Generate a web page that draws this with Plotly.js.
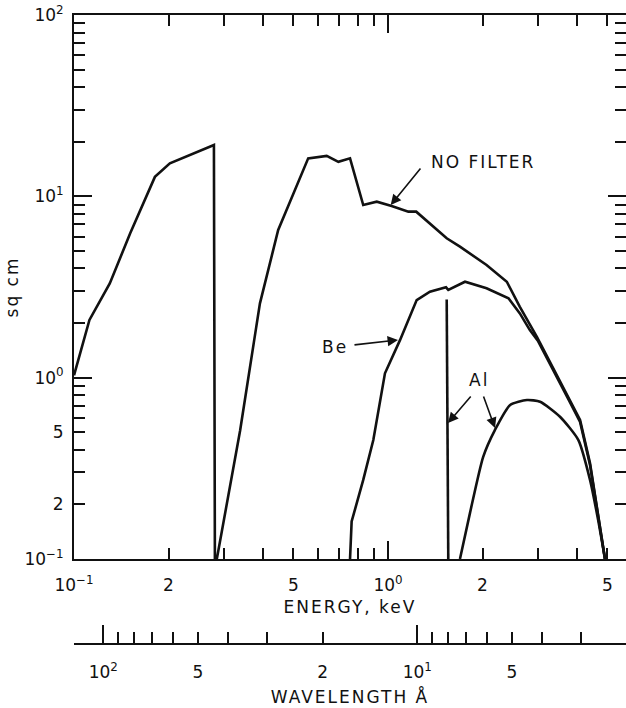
<!DOCTYPE html>
<html>
<head>
<meta charset="utf-8">
<script src="https://cdn.plot.ly/plotly-3.0.1.min.js"></script>
<style>
  html, body { margin: 0; padding: 0; background: #ffffff; overflow: hidden; }
  #chart { width: 626px; height: 708px; }
  .xtitle, .x2title, .ytitle, .annotation-text { letter-spacing: 2px; }
</style>
</head>
<body>
<div id="chart"></div>
<script>
// ---- data (energy in keV, effective area in sq cm) ----
const noFilterE = [0.100, 0.112, 0.130, 0.151, 0.181, 0.202, 0.279, 0.281, 0.285, 0.338, 0.391, 0.447, 0.557, 0.638, 0.695, 0.757, 0.834, 0.921, 1.027, 1.161, 1.23, 1.394, 1.538, 1.695, 2.06, 2.39, 2.63, 2.98, 3.80, 4.09, 4.40, 4.62, 4.91];
const noFilterA = [1.03, 2.08, 3.31, 6.25, 12.8, 15.2, 19.2, 0.1, 0.1, 0.51, 2.57, 6.52, 16.2, 16.7, 15.5, 16.2, 8.96, 9.34, 8.85, 8.23, 8.23, 6.80, 5.87, 5.28, 4.18, 3.38, 2.46, 1.68, 0.753, 0.584, 0.337, 0.194, 0.10];

const beE = [0.757, 0.766, 0.834, 0.898, 0.978, 1.092, 1.234, 1.36, 1.53, 1.556, 1.759, 2.06, 2.42, 2.63, 2.83, 3.00, 3.80, 4.09, 4.40, 4.62, 4.91];
const beA = [0.10, 0.161, 0.273, 0.453, 1.057, 1.61, 2.68, 2.98, 3.15, 3.05, 3.38, 3.11, 2.74, 2.26, 1.83, 1.60, 0.73, 0.57, 0.33, 0.19, 0.10];

const alSpikeE = [1.538, 1.556];
const alSpikeA = [2.70, 0.10];

const alE = [1.695, 1.824, 2.01, 2.19, 2.45, 2.77, 3.05, 3.53, 4.04, 4.40, 4.67, 4.91];
const alA = [0.10, 0.179, 0.366, 0.514, 0.707, 0.753, 0.737, 0.609, 0.453, 0.273, 0.164, 0.10];

// ---- tick definitions ----
const energyLabelVals = [0.1, 0.2, 0.5, 1, 2, 5];
const energyLabelText = ['10<sup>\u22121</sup>', '2', '5', '10<sup>0</sup>', '2', '5'];
const energyMinorVals = [0.3, 0.4, 0.6, 0.7, 0.8, 0.9, 3, 4];
const energyMajorVals = [0.1, 1];

const areaLabelVals = [0.1, 0.2, 0.5, 1, 10, 100];
const areaLabelText = ['10<sup>\u22121</sup>', '2', '5', '10<sup>0</sup>', '10<sup>1</sup>', '10<sup>2</sup>'];
const areaMinorVals = [0.3, 0.4, 0.6, 0.7, 0.8, 0.9, 2, 3, 4, 5, 6, 7, 8, 9, 20, 30, 40, 50, 60, 70, 80, 90];
const areaMajorVals = [0.1, 1, 10, 100];

const wlLabelVals = [100, 50, 20, 10, 5];          // Angstrom
const wlLabelText = ['10<sup>2</sup>', '5', '2', '10<sup>1</sup>', '5'];
const wlMinorVals = [90, 80, 70, 60, 40, 30, 9, 8, 7, 6, 4, 3];
const wlMajorVals = [100, 10];
const HC = 12.398;   // keV * Angstrom
const toE = l => HC / l;

// ---- styling ----
const INK = '#111111';
const FONT = 'DejaVu Sans, Liberation Sans, sans-serif';
const XRANGE = [-1, 0.758];
const YRANGE = [-1, 2];

const lineStyle = { color: INK, width: 2.6 };

const traces = [
  { x: noFilterE, y: noFilterA, mode: 'lines', line: lineStyle, name: 'No filter', hoverinfo: 'skip' },
  { x: beE, y: beA, mode: 'lines', line: lineStyle, name: 'Be', hoverinfo: 'skip' },
  { x: alSpikeE, y: alSpikeA, mode: 'lines', line: lineStyle, name: 'Al', hoverinfo: 'skip' },
  { x: alE, y: alA, mode: 'lines', line: Object.assign({ shape: 'spline', smoothing: 0.6 }, lineStyle), name: 'Al', hoverinfo: 'skip' },
  // empty helper traces so the overlay axes get their subplots
  { x: [], y: [], xaxis: 'x2', yaxis: 'y', mode: 'lines', hoverinfo: 'skip' },
  { x: [], y: [], xaxis: 'x3', yaxis: 'y', mode: 'lines', hoverinfo: 'skip' },
  { x: [], y: [], xaxis: 'x4', yaxis: 'y', mode: 'lines', hoverinfo: 'skip' },
  { x: [], y: [], xaxis: 'x', yaxis: 'y2', mode: 'lines', hoverinfo: 'skip' }
];

const tickFont = { family: FONT, size: 17, color: INK };
const titleFont = { family: FONT, size: 17, color: INK };

const baseAxis = {
  type: 'log', showgrid: false, zeroline: false,
  showline: true, linecolor: INK, linewidth: 2,
  ticks: 'inside', tickcolor: INK, tickwidth: 2,
  tickfont: tickFont, fixedrange: true, automargin: false
};

const layout = {
  width: 626, height: 708,
  margin: { l: 74, r: 0, t: 15, b: 64 },
  paper_bgcolor: '#ffffff', plot_bgcolor: '#ffffff',
  showlegend: false,
  xaxis: Object.assign({}, baseAxis, {
    range: XRANGE, anchor: 'y', mirror: 'ticks',
    tickmode: 'array', tickvals: energyLabelVals, ticktext: energyLabelText, ticklen: 11,
    minor: { tickmode: 'array', tickvals: energyMinorVals, ticks: 'inside', ticklen: 11, tickwidth: 2, tickcolor: INK, showgrid: false },
    ticklabelstandoff: 10,
    title: { text: 'ENERGY, keV', font: titleFont, standoff: 7 }
  }),
  xaxis3: Object.assign({}, baseAxis, {
    range: XRANGE, anchor: 'y', overlaying: 'x', mirror: 'ticks',
    tickmode: 'array', tickvals: energyMajorVals, ticklen: 18, showticklabels: false
  }),
  xaxis2: Object.assign({}, baseAxis, {
    range: XRANGE, anchor: 'free', position: 0, overlaying: 'x', side: 'bottom',
    tickmode: 'array', tickvals: wlLabelVals.map(toE), ticktext: wlLabelText, ticklen: 11,
    minor: { tickmode: 'array', tickvals: wlMinorVals.map(toE), ticks: 'inside', ticklen: 11, tickwidth: 2, tickcolor: INK, showgrid: false },
    ticklabelstandoff: 13,
    title: { text: 'WAVELENGTH \u00C5', font: titleFont, standoff: 9 }
  }),
  xaxis4: Object.assign({}, baseAxis, {
    range: XRANGE, anchor: 'free', position: 0, overlaying: 'x', side: 'bottom',
    tickmode: 'array', tickvals: wlMajorVals.map(toE), ticklen: 18, showticklabels: false
  }),
  yaxis: Object.assign({}, baseAxis, {
    range: YRANGE, domain: [0.13514, 1], anchor: 'x', mirror: 'ticks',
    tickmode: 'array', tickvals: areaLabelVals, ticktext: areaLabelText, ticklen: 11,
    minor: { tickmode: 'array', tickvals: areaMinorVals, ticks: 'inside', ticklen: 11, tickwidth: 2, tickcolor: INK, showgrid: false },
    ticklabelstandoff: 5,
    title: { text: 'sq cm', font: titleFont, standoff: 1 }
  }),
  yaxis2: Object.assign({}, baseAxis, {
    range: YRANGE, anchor: 'x', overlaying: 'y', side: 'left', mirror: 'ticks',
    tickmode: 'array', tickvals: areaMajorVals, ticklen: 18, showticklabels: false
  }),
  annotations: [
    { x: Math.log10(2.0), y: 1.192, xref: 'x', yref: 'y', text: 'NO FILTER', showarrow: false, font: titleFont },
    { x: -0.1698, y: 0.1707, xref: 'x', yref: 'y', text: 'Be', showarrow: false, font: titleFont },
    { x: 0.2898, y: -0.0129, xref: 'x', yref: 'y', text: 'Al', showarrow: false, font: titleFont },
    // arrows (head at x,y; tail offset ax,ay in pixels)
    { x: 0.0086, y: 0.9522, xref: 'x', yref: 'y', text: '', showarrow: true, ax: 31, ay: -38, arrowhead: 2, arrowsize: 1.3, arrowwidth: 1.6, arrowcolor: INK, standoff: 0 },
    { x: 0.0318, y: 0.2077, xref: 'x', yref: 'y', text: '', showarrow: true, ax: -45, ay: 5, arrowhead: 2, arrowsize: 1.3, arrowwidth: 1.6, arrowcolor: INK, standoff: 0 },
    { x: 0.1911, y: -0.2500, xref: 'x', yref: 'y', text: '', showarrow: true, ax: 24, ay: -28, arrowhead: 2, arrowsize: 1.3, arrowwidth: 1.6, arrowcolor: INK, standoff: 0 },
    { x: 0.3408, y: -0.2776, xref: 'x', yref: 'y', text: '', showarrow: true, ax: -12, ay: -33, arrowhead: 2, arrowsize: 1.3, arrowwidth: 1.6, arrowcolor: INK, standoff: 0 }
  ]
};

Plotly.newPlot('chart', traces, layout, { displayModeBar: false, staticPlot: true });
</script>
</body>
</html>
